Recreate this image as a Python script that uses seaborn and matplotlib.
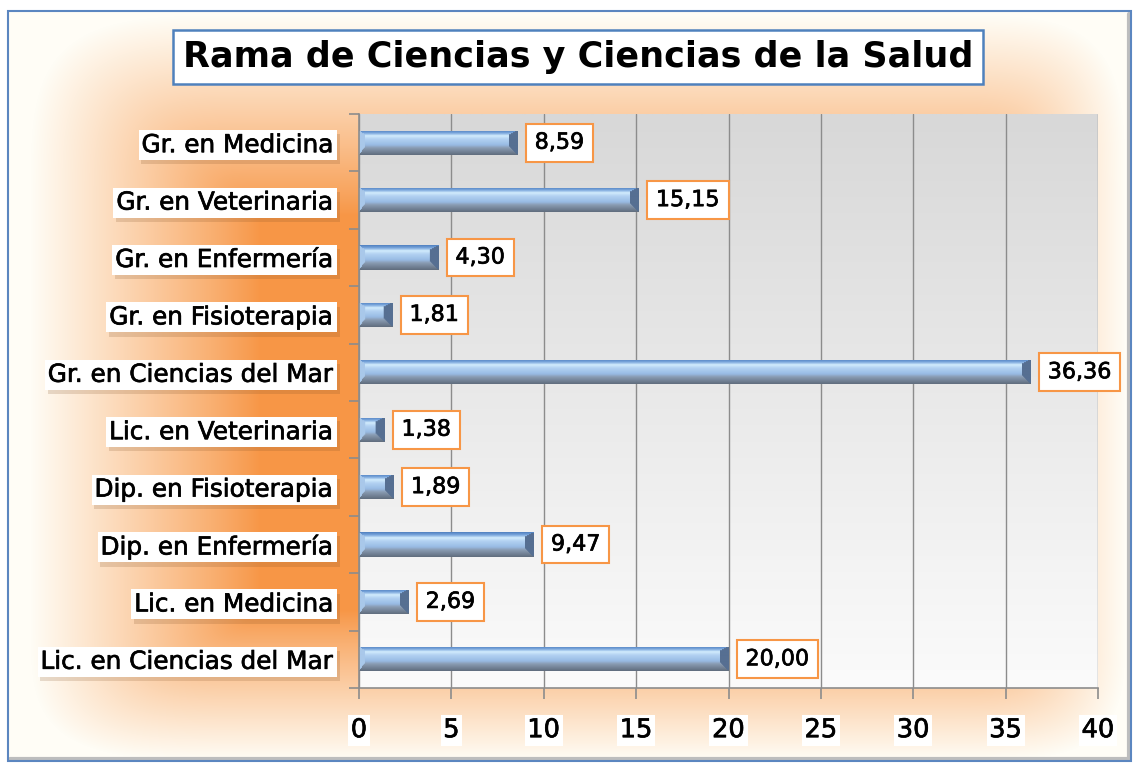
#!/usr/bin/env python3
"""
Horizontal bar chart: Rama de Ciencias y Ciencias de la Salud.
Excel-like look: orange frame gradient, grey plot area, bevelled blue bars.
"""

import numpy as np
import pandas as pd
import seaborn as sns
import matplotlib.pyplot as plt
import matplotlib.patheffects as pe
from matplotlib.patches import Rectangle
from matplotlib.ticker import FixedLocator


TITLE = "Rama de Ciencias y Ciencias de la Salud"
CATEGORIES = [
    "Gr. en Medicina",
    "Gr. en Veterinaria",
    "Gr. en Enfermería",
    "Gr. en Fisioterapia",
    "Gr. en Ciencias del Mar",
    "Lic. en Veterinaria",
    "Dip. en Fisioterapia",
    "Dip. en Enfermería",
    "Lic. en Medicina",
    "Lic. en Ciencias del Mar",
]
VALUES = [8.59, 15.15, 4.30, 1.81, 36.36, 1.38, 1.89, 9.47, 2.69, 20.00]
X_TICKS = [0, 5, 10, 15, 20, 25, 30, 35, 40]

W, H = 1135, 766
ORANGE = np.array([247, 150, 70]) / 255.0
CREAM = np.array([255, 253, 246]) / 255.0
THICK = [pe.withStroke(linewidth=0.5, foreground="black")]


def hex_rgb(h):
    h = h.lstrip("#")
    return np.array([int(h[i:i + 2], 16) for i in (0, 2, 4)]) / 255.0


def frame_background():
    # rounded rectangular gradient: orange around the plot, cream at the frame edge
    yy, xx = np.mgrid[0:H, 0:W].astype(float)
    fl = np.clip((260 - xx) / 230, 0, 1)
    fr = np.clip((xx - 940) / 185, 0, 1)
    ft = np.clip((215 - yy) / 200, 0, 1)
    fb = np.clip((yy - 610) / 150, 0, 1)
    p = 4.0
    t = np.clip((fl ** p + fr ** p + ft ** p + fb ** p) ** (1 / p), 0, 1) ** 0.9
    img = ORANGE * (1 - t[..., None]) + CREAM * t[..., None]
    outside = (xx < 8) | (xx > 1131) | (yy < 11) | (yy > 761)
    img[outside] = 1.0
    return img


def bar_image(wpx, hpx):
    # bevelled bar: vertical profile plus mitred end bevels
    wpx, hpx = max(int(round(wpx)), 2), max(int(round(hpx)), 2)
    stops = [
        (0.00, "#5585c4"),
        (0.10, "#7aa6dc"),
        (0.22, "#d2ecfd"),
        (0.35, "#b3d2f2"),
        (0.60, "#98bbe4"),
        (0.72, "#8a9cb3"),
        (1.00, "#626f80"),
    ]
    pos = np.array([s[0] for s in stops])
    cols = np.array([hex_rgb(s[1]) for s in stops])
    rows = np.linspace(0, 1, hpx)
    prof = np.stack([np.interp(rows, pos, cols[:, k]) for k in range(3)], axis=1)
    img = np.repeat(prof[:, None, :], wpx, axis=1)

    r, c = np.mgrid[0:hpx, 0:wpx]
    d_top, d_bot = r / 4.0, (hpx - 1 - r) / 8.0
    d_left, d_right = c / 6.0, (wpx - 1 - c) / 9.0
    d = np.stack([d_top, d_bot, d_left, d_right])
    side = d.argmin(axis=0)
    near = d.min(axis=0) < 1.0
    img[near & (side == 2)] = hex_rgb("#a9c8ea")
    img[near & (side == 3)] = hex_rgb("#566f92")
    return img


def main():
    sns.set_theme(style="white")
    plt.rcParams["font.family"] = ["DejaVu Sans"]
    plt.rcParams["text.color"] = "black"
    plt.rcParams["xtick.color"] = "black"
    plt.rcParams["ytick.color"] = "black"

    fig = plt.figure(figsize=(W / 100, H / 100), dpi=100)

    # frame background
    bg = fig.add_axes([0, 0, 1, 1], zorder=-10)
    bg.imshow(frame_background(), aspect="auto", extent=[0, W, H, 0])
    bg.set_xlim(0, W)
    bg.set_ylim(H, 0)
    bg.axis("off")
    bg.plot([1129, 1129, 10], [14, 759, 759], color="#bdbdbd", lw=3, zorder=1)
    bg.add_patch(Rectangle((8, 11), 1123, 750, facecolor="none",
                           edgecolor="#5b86c0", lw=1.5, zorder=2))

    df = pd.DataFrame({"categoria": CATEGORIES, "valor": VALUES})

    left, right, top, bottom = 359, 1098, 114, 688
    ax = fig.add_axes([left / W, 1 - bottom / H, (right - left) / W, (bottom - top) / H])
    ax.patch.set_alpha(0)

    sns.barplot(data=df, x="valor", y="categoria", orient="h", width=0.42,
                color="#8db3e2", edgecolor="none", ax=ax, zorder=3)

    n = len(CATEGORIES)
    ax.set_xlim(0, 40)
    ax.set_ylim(n - 0.5, -0.5)

    # plot area gradient (grey top -> near white bottom)
    g = np.linspace(0, 1, 200)[:, None]
    area = hex_rgb("#d8d8d8") * (1 - g[..., None]) + hex_rgb("#fbfbfb") * g[..., None]
    area = np.repeat(area, 2, axis=1)
    ax.imshow(area, aspect="auto", extent=[0, 40, n - 0.5, -0.5],
              zorder=0, interpolation="bilinear")

    # bevelled gradient over each bar
    fig.canvas.draw()
    for patch in ax.patches:
        bb = patch.get_window_extent()
        x0, y0 = patch.get_x(), patch.get_y()
        w, h = patch.get_width(), patch.get_height()
        img = bar_image(bb.width, bb.height)
        im = ax.imshow(img, aspect="auto", extent=[x0, x0 + w, y0 + h, y0],
                       zorder=4, interpolation="bilinear")
        im.set_clip_path(patch)
    ax.set_xlim(0, 40)
    ax.set_ylim(n - 0.5, -0.5)

    # value labels
    for i, v in enumerate(VALUES):
        ax.annotate(f"{v:.2f}".replace(".", ","), xy=(v, i), xytext=(17, 0),
                    textcoords="offset pixels", ha="left", va="center",
                    fontsize=16, color="black", zorder=6, path_effects=THICK,
                    bbox=dict(boxstyle="square,pad=0.4", facecolor="white",
                              edgecolor="#f79646", lw=1.5))

    # axes styling
    ax.set_xlabel("")
    ax.set_ylabel("")
    ax.xaxis.set_major_locator(FixedLocator(X_TICKS))
    ax.grid(axis="x", color="#8c8c8c", lw=1, zorder=1)
    ax.set_axisbelow(True)
    for s in ["top", "right"]:
        ax.spines[s].set_visible(False)
    for s in ["left", "bottom"]:
        ax.spines[s].set_color("#8c8c8c")
        ax.spines[s].set_linewidth(1.2)
        ax.spines[s].set_zorder(5)

    ax.yaxis.set_minor_locator(FixedLocator(np.arange(-0.5, n, 1)))
    ax.tick_params(axis="y", which="major", length=0, pad=18, labelsize=17.8)
    ax.tick_params(axis="y", which="minor", length=7, width=1.2, color="#8c8c8c", left=True)
    ax.tick_params(axis="x", which="major", length=8, width=1.2, color="#8c8c8c",
                   bottom=True, direction="out", pad=13, labelsize=18.5)
    for lab in ax.get_yticklabels():
        lab.set_color("black")
        lab.set_path_effects(THICK)
        lab.set_bbox(dict(boxstyle="square,pad=0.12", facecolor="white", edgecolor="none"))
        lab.get_bbox_patch().set_path_effects(
            [pe.SimplePatchShadow(offset=(2, -3), alpha=0.18, shadow_rgbFace="#7a4a20"),
             pe.Normal()])
    for lab in ax.get_xticklabels():
        lab.set_color("black")
        lab.set_path_effects(THICK)
        lab.set_bbox(dict(boxstyle="square,pad=0.1", facecolor="white", edgecolor="none"))

    # title in a white box with blue border
    fig.text(578 / W, 1 - 57 / H, TITLE, ha="center", va="center",
             fontsize=25.2, fontweight="bold", color="black",
             bbox=dict(boxstyle="square,pad=0.28", facecolor="white",
                       edgecolor="#4f81bd", lw=1.8))

    fig.savefig("out.png", dpi=100)
    plt.close(fig)


if __name__ == "__main__":
    main()
